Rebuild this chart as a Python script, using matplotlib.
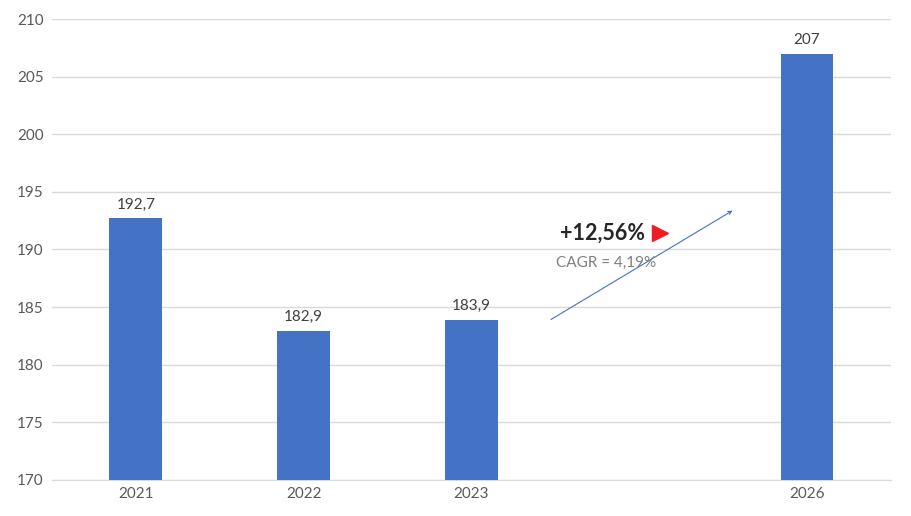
import matplotlib.pyplot as plt

# dati
categorie = ['2021', '2022', '2023', '', '2026']
valori = [192.7, 182.9, 183.9, None, 207]
etichette = ['192,7', '182,9', '183,9', '', '207']
yticks = [170, 175, 180, 185, 190, 195, 200, 205, 210]
crescita = '+12,56%'
cagr = 'CAGR = 4,19%'

plt.rcParams['font.family'] = ['Lato', 'DejaVu Sans']

fig = plt.figure(figsize=(9.11, 5.16), dpi=100)
ax = fig.add_axes([0.057, 0.07, 0.921, 0.893])

x = [i for i, v in enumerate(valori) if v is not None]
y = [v for v in valori if v is not None]
lab = [etichette[i] for i in x]

bars = ax.bar(x, [v - 170 for v in y], bottom=170, width=0.315, color='#4472C4', zorder=3)
for b, t in zip(bars, lab):
    ax.text(b.get_x() + b.get_width() / 2, b.get_y() + b.get_height() + 0.6, t,
            ha='center', va='bottom', fontsize=11, color='#404040')

ax.set_xlim(-0.5, len(categorie) - 0.5)
ax.set_ylim(170, 210)
ax.set_yticks(yticks)
ax.set_xticks(range(len(categorie)))
ax.set_xticklabels(categorie)
ax.tick_params(axis='both', length=0, labelsize=11, labelcolor='#595959')
ax.tick_params(axis='y', pad=6)
ax.tick_params(axis='x', pad=5)
ax.grid(axis='y', color='#d9d9d9', linewidth=1, zorder=0)
for s in ['top', 'right', 'left']:
    ax.spines[s].set_visible(False)
ax.spines['bottom'].set_color('#d9d9d9')

# freccia di crescita
ax.annotate('', xy=(3.57, 193.5), xytext=(2.46, 183.8),
            arrowprops=dict(arrowstyle='->', color='#4472C4', lw=0.8, mutation_scale=6))
ax.text(2.78, 191.4, crescita, ha='center', va='center', fontsize=15.5,
        fontweight='bold', color='#262626')
ax.plot([3.125], [191.4], marker='>', color='#ee1c25', markersize=11, linestyle='none')
ax.text(2.8, 188.8, cagr, ha='center', va='center', fontsize=11, color='#7f7f7f')

plt.savefig('out.png', dpi=100)
